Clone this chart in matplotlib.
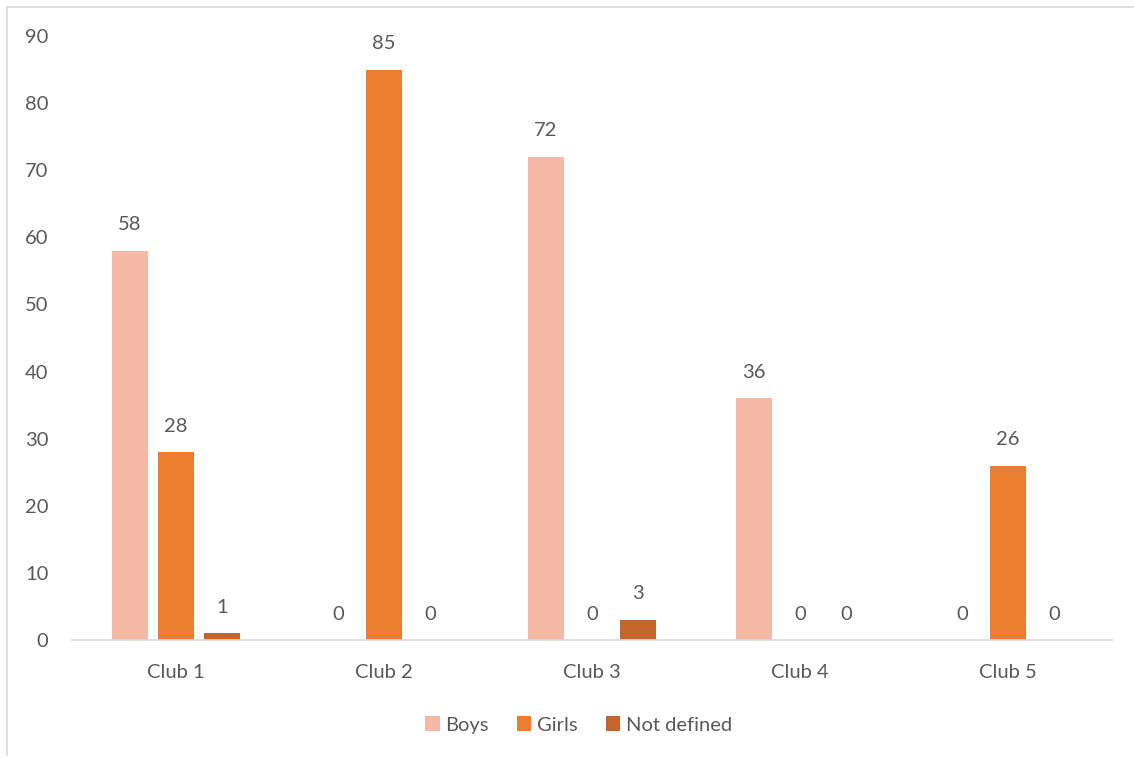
import matplotlib
matplotlib.use("Agg")
import matplotlib.pyplot as plt
import numpy as np
from matplotlib.lines import Line2D

categories = ["Club 1", "Club 2", "Club 3", "Club 4", "Club 5"]
boys = [58, 0, 72, 36, 0]
girls = [28, 85, 0, 0, 26]
not_defined = [1, 0, 3, 0, 0]
series_names = ["Boys", "Girls", "Not defined"]
colors = ["#F4B9A5", "#ED7D31", "#C5652B"]
yticks = [0, 10, 20, 30, 40, 50, 60, 70, 80, 90]

plt.rcParams['font.family'] = ['Lato', 'DejaVu Sans']
text_color = "#595959"
fs = 14.5

fig = plt.figure(figsize=(11.34, 7.58), dpi=100)
ax = fig.add_axes([72/1134, 1-640/758, 1040/1134, (640-36)/758])

x = np.arange(len(categories))
width = 36/208
step = 46/208
for i, (vals, name, c) in enumerate(zip([boys, girls, not_defined], series_names, colors)):
    pos = x + (i-1)*step
    ax.bar(pos, vals, width, color=c, label=name)
    for p, v in zip(pos, vals):
        ax.annotate(str(v), (p, v), xytext=(0, 26), textcoords='offset pixels',
                    ha='center', va='center', fontsize=fs, color=text_color)

ax.set_xlim(-0.5, 4.5)
ax.set_ylim(0, 90)
ax.set_yticks(yticks)
ax.set_xticks(x)
ax.set_xticklabels(categories)
for s in ['top', 'right', 'left']:
    ax.spines[s].set_visible(False)
ax.spines['bottom'].set_color('#D9D9D9')
ax.spines['bottom'].set_linewidth(1.2)
ax.tick_params(axis='both', length=0, labelsize=fs, labelcolor=text_color)
ax.tick_params(axis='y', pad=17)
ax.tick_params(axis='x', pad=17)

fig.legend(loc='center', bbox_to_anchor=(579/1134, 1-725/758), ncol=3, frameon=False,
           fontsize=fs, handlelength=0.7, handleheight=0.7, handletextpad=0.3,
           columnspacing=1.4, labelcolor=text_color)

# partial border (left and top) of the chart area
fig.add_artist(Line2D([7/1134, 7/1134], [1-755/758, 1-7/758], transform=fig.transFigure,
                      color='#D9D9D9', lw=1.2))
fig.add_artist(Line2D([7/1134, 1], [1-7/758, 1-7/758], transform=fig.transFigure,
                      color='#D9D9D9', lw=1.2))

fig.savefig("out.png", dpi=100)
